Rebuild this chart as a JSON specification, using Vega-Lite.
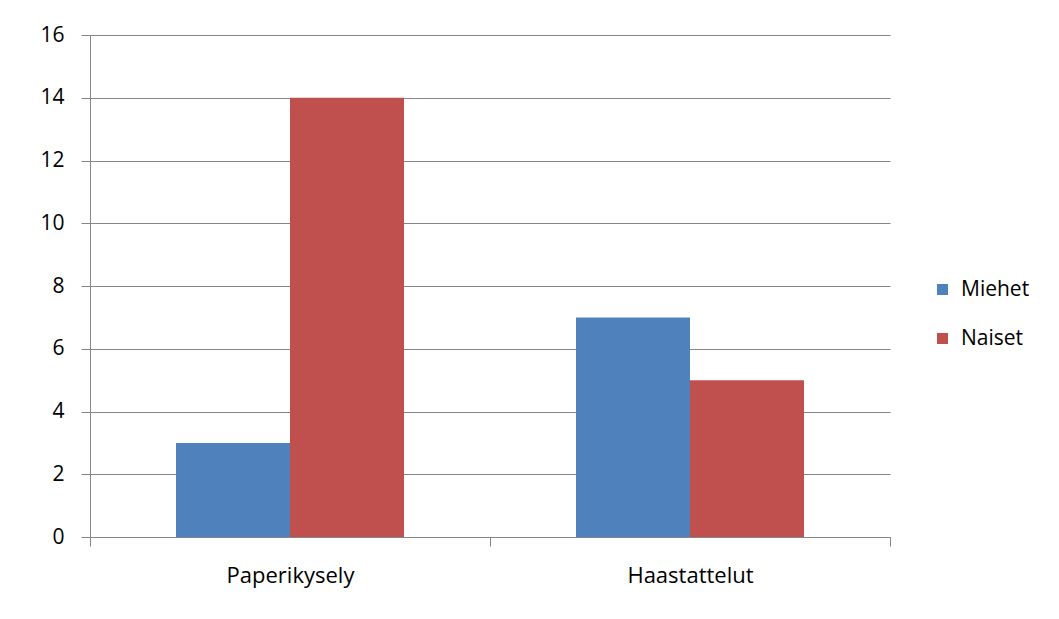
{
  "$schema": "https://vega.github.io/schema/vega-lite/v6.json",
  "autosize": {"type": "none"},
  "width": 800,
  "height": 502,
  "padding": {"left": 90, "top": 35, "right": 169, "bottom": 82},
  "background": "white",
  "data": {"values": [
    {"kysely": "Paperikysely", "sukupuoli": "Miehet", "arvo": 3},
    {"kysely": "Paperikysely", "sukupuoli": "Naiset", "arvo": 14},
    {"kysely": "Haastattelut", "sukupuoli": "Miehet", "arvo": 7},
    {"kysely": "Haastattelut", "sukupuoli": "Naiset", "arvo": 5}
  ]},
  "mark": {"type": "bar"},
  "encoding": {
    "x": {
      "field": "kysely", "type": "nominal",
      "sort": ["Paperikysely", "Haastattelut"],
      "scale": {"paddingInner": 0, "paddingOuter": 0},
      "axis": {
        "title": null, "labelAngle": 0, "tickBand": "extent",
        "domainColor": "#868686", "tickColor": "#868686", "tickSize": 9,
        "labelPadding": 19, "labelFontSize": 22, "labelFont": "Open Sans",
        "labelColor": "#000000", "grid": false
      }
    },
    "xOffset": {"field": "sukupuoli", "type": "nominal", "sort": ["Miehet", "Naiset"], "scale": {"paddingInner": 0, "paddingOuter": 0.7544}},
    "y": {
      "field": "arvo", "type": "quantitative",
      "scale": {"domain": [0, 16], "nice": false},
      "axis": {
        "title": null, "values": [0, 2, 4, 6, 8, 10, 12, 14, 16],
        "domainColor": "#868686", "tickColor": "#868686", "tickSize": 9,
        "gridColor": "#868686", "grid": true,
        "labelPadding": 17, "labelFontSize": 21, "labelFont": "Open Sans",
        "labelColor": "#000000"
      }
    },
    "color": {
      "field": "sukupuoli", "type": "nominal",
      "sort": ["Miehet", "Naiset"],
      "scale": {"domain": ["Miehet", "Naiset"], "range": ["#4F81BD", "#C0504D"]},
      "legend": {
        "title": null, "orient": "none", "legendX": 842, "legendY": 244,
        "symbolType": "square", "symbolSize": 121, "symbolStrokeWidth": 0,
        "labelFontSize": 21, "labelFont": "Open Sans", "labelColor": "#000000",
        "rowPadding": 27, "labelOffset": 8
      }
    }
  },
  "config": {"view": {"stroke": null}}
}
